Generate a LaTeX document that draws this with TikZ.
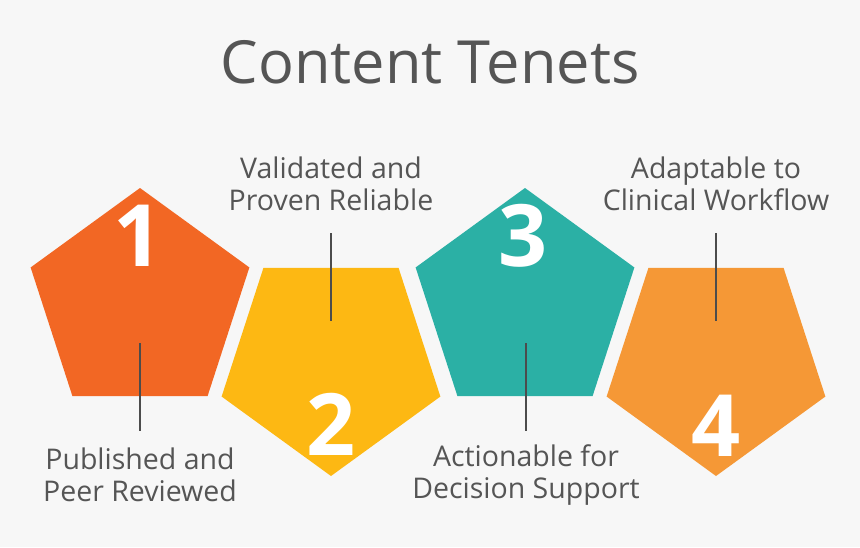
\documentclass[tikz,border=0pt]{standalone}
\usepackage{fontspec}
\setmainfont{Open Sans}
\usetikzlibrary{shapes.geometric}
\definecolor{bg}{HTML}{F7F7F7}
\definecolor{txt}{HTML}{555555}
\definecolor{cA}{HTML}{F26724}
\definecolor{cB}{HTML}{FDB813}
\definecolor{cC}{HTML}{2BB0A5}
\definecolor{cD}{HTML}{F59836}
\tikzset{
 pent/.style={regular polygon, regular polygon sides=5, minimum size=230pt, inner sep=0pt, draw=none},
 num/.style={text=white, font=\fontsize{86}{86}\selectfont\bfseries},
 lab/.style={text=txt, align=center, font=\fontsize{28.5}{32}\selectfont},
 stem/.style={draw=txt!90!black, line width=2.2pt}
}
\begin{document}
\begin{tikzpicture}[x=1pt,y=-1pt]
\fill[bg] (0,0) rectangle (860,547);
\useasboundingbox (0,0) rectangle (860,547);
\node[text=txt, font=\fontsize{59.5}{59.5}\selectfont] (title) at (430,62) {Content Tenets};
\node[pent, fill=cA] (p1) at (140,303) {};
\node[pent, fill=cB, shape border rotate=180] (p2) at (331,361) {};
\node[pent, fill=cC] (p3) at (525,303) {};
\node[pent, fill=cD, shape border rotate=180] (p4) at (716,361) {};
\node[num] (n1) at (138,236) {1};
\node[num] (n2) at (331,424) {2};
\node[num] (n3) at (523,236) {3};
\node[num] (n4) at (716,426) {4};
\coordinate (a1) at (140,343); \coordinate (b1) at (140,431);
\coordinate (a2) at (331,233); \coordinate (b2) at (331,321);
\coordinate (a3) at (526,343); \coordinate (b3) at (526,431);
\coordinate (a4) at (716,233); \coordinate (b4) at (716,321);
\draw[stem] (a1) -- (b1);
\draw[stem] (a2) -- (b2);
\draw[stem] (a3) -- (b3);
\draw[stem] (a4) -- (b4);
\node[lab] (l1) at (140,475) {Published and\\Peer Reviewed};
\node[lab] (l2) at (331,184) {Validated and\\Proven Reliable};
\node[lab] (l3) at (526,475) {Actionable for\\Decision Support};
\node[lab] (l4) at (716,184) {Adaptable to\\Clinical Workflow};
\end{tikzpicture}
\end{document}
